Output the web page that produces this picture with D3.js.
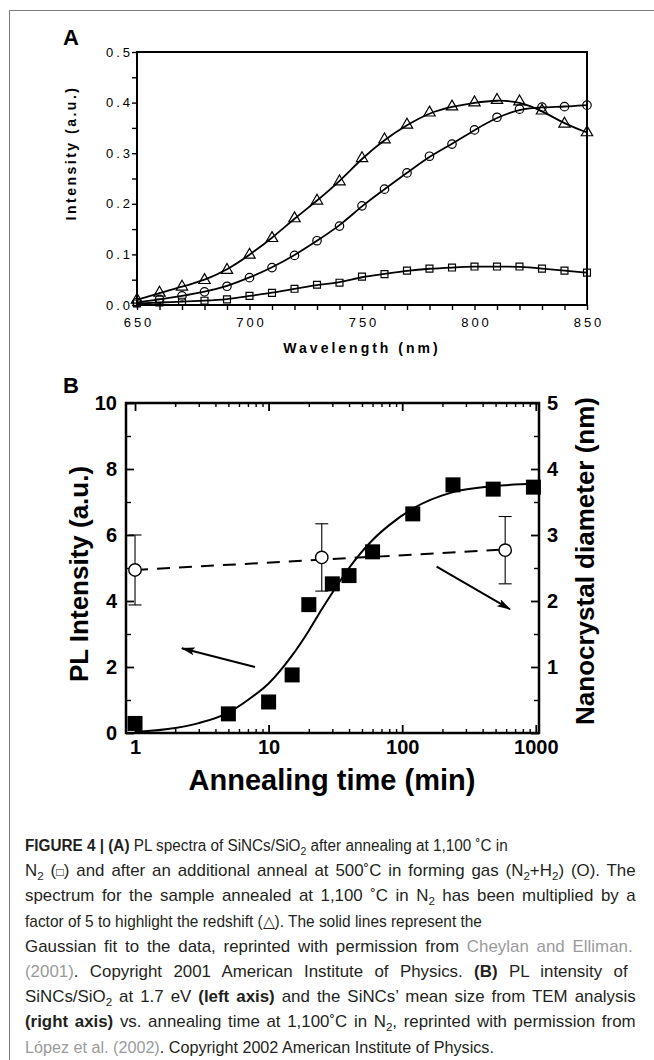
<!DOCTYPE html>
<html>
<head>
<meta charset="utf-8">
<title>Figure 4</title>
<script src="https://cdnjs.cloudflare.com/ajax/libs/d3/7.8.5/d3.min.js"></script>
<style>
  body { margin: 0; background: #fff; }
  svg { display: block; font-family: "Liberation Sans", Arial, Helvetica, sans-serif; }
  .tick line { stroke: #000; }
  .tick text { fill: #000; }
</style>
</head>
<body>
<script>
  // ---- panel A : PL spectra ----
  var wavelength = [650, 660, 670, 680, 690, 700, 710, 720, 730, 740, 750,
    760, 770, 780, 790, 800, 810, 820, 830, 840, 850];
  var redshiftX5 = [0.010, 0.024, 0.036, 0.049, 0.069, 0.099, 0.132, 0.171, 0.206, 0.244, 0.290,
    0.327, 0.356, 0.380, 0.392, 0.400, 0.405, 0.402, 0.384, 0.358, 0.341];
  var formingGas = [0.005, 0.011, 0.018, 0.026, 0.037, 0.054, 0.074, 0.098, 0.127, 0.156, 0.196,
    0.229, 0.261, 0.294, 0.318, 0.346, 0.371, 0.387, 0.391, 0.392, 0.395];
  var annealN2 = [0.003, 0.005, 0.0065, 0.0085, 0.011, 0.018, 0.024, 0.032, 0.040, 0.044, 0.056,
    0.061, 0.068, 0.072, 0.074, 0.076, 0.076, 0.076, 0.072, 0.068, 0.064];
  var xTicksA = [650, 660, 670, 680, 690, 700, 710, 720, 730, 740, 750, 760, 770, 780, 790, 800,
    810, 820, 830, 840, 850];
  var xLabelsA = [650, 700, 750, 800, 850];
  var yTicksA = [0, 0.05, 0.1, 0.15, 0.2, 0.25, 0.3, 0.35, 0.4, 0.45, 0.5];
  var yLabelsA = [0, 0.1, 0.2, 0.3, 0.4, 0.5];

  // ---- panel B : PL intensity and size vs annealing time ----
  var annealTime = [1, 5, 10, 15, 20, 30, 40, 60, 120, 240, 480, 960];
  var plIntensity = [0.29, 0.58, 0.94, 1.76, 3.89, 4.52, 4.77, 5.49, 6.64, 7.52, 7.39, 7.45];
  var fitTime = [1, 2, 3, 5, 7, 10, 15, 20, 25, 30, 40, 60, 80, 120, 240, 480, 1000];
  var fitIntensity = [0.03, 0.15, 0.3, 0.62, 1.0, 1.5, 2.35, 3.1, 3.75, 4.25, 5.0, 5.85, 6.3, 6.8, 7.3, 7.48, 7.55];
  var sizeTime = [1, 25, 590];
  var sizeDiameter = [2.47, 2.66, 2.77];
  var sizeError = [0.53, 0.51, 0.51];
  var sizeFitTime = [1, 590];
  var sizeFitDiameter = [2.47, 2.78];
  var xMajorB = [1, 10, 100, 1000];
  var xMinorB = [2, 3, 4, 5, 6, 7, 8, 9, 20, 30, 40, 50, 60, 70, 80, 90, 200, 300, 400, 500, 600, 700, 800, 900];
  var yLeftMajor = [0, 2, 4, 6, 8, 10];
  var yLeftMinor = [1, 3, 5, 7, 9];
  var yRightMajor = [0, 1, 2, 3, 4, 5];
  var yRightMinor = [0.5, 1.5, 2.5, 3.5, 4.5];
  // arrows in (time, left-axis intensity) units
  var arrowLeft = [[7.9, 2.0], [2.24, 2.57]];
  var arrowRight = [[181, 5.04], [641, 3.75]];

  // ---- caption ----
  var captionLines = [
    [["FIGURE 4 | (A)", "b"], [" PL spectra of SiNCs/SiO", "n"], ["2", "s"], [" after annealing at 1,100 \u02daC in", "n"]],
    [["N", "n"], ["2", "s"], [" (", "n"], ["\u25a1", "q"], [") and after an additional anneal at 500\u02daC in forming gas (N", "n"], ["2", "s"], ["+H", "n"], ["2", "s"], [") (O). The", "n"]],
    [["spectrum for the sample annealed at 1,100 \u02daC in N", "n"], ["2", "s"], [" has been multiplied by a", "n"]],
    [["factor of 5 to highlight the redshift (\u25b3). The solid lines represent the", "n"]],
    [["Gaussian fit to the data, reprinted with permission from ", "n"], ["Cheylan and Elliman.", "g"]],
    [["(2001)", "g"], [". Copyright 2001 American Institute of Physics. ", "n"], ["(B)", "b"], [" PL intensity of", "n"]],
    [["SiNCs/SiO", "n"], ["2", "s"], [" at 1.7 eV ", "n"], ["(left axis)", "b"], [" and the SiNCs\u2019 mean size from TEM analysis", "n"]],
    [["(right axis)", "b"], [" vs. annealing time at 1,100\u02daC in N", "n"], ["2", "s"], [", reprinted with permission from", "n"]],
    [["L\u00f3pez et al. (2002)", "g"], [". Copyright 2002 American Institute of Physics.", "n"]]
  ];
  var captionWidths = [483, 611, 611, 457, 608, 603, 611, 611, 469];
  var captionJustified = [false, true, true, false, true, true, true, true, false];

  var svg = d3.select("body").append("svg")
    .attr("width", 654)
    .attr("height", 1060);

  // outer frame
  svg.append("path")
    .attr("d", "M654,10.5 H9.5 V1060")
    .attr("fill", "none")
    .attr("stroke", "#7a7a7a")
    .attr("stroke-width", 1);

  // ================= panel A =================
  var xA = d3.scaleLinear().domain([650, 850]).range([137, 587]);
  var yA = d3.scaleLinear().domain([0, 0.5]).range([305, 52]);

  var gA = svg.append("g");

  gA.append("g")
    .attr("transform", "translate(0," + yA(0) + ")")
    .call(d3.axisBottom(xA)
      .tickValues(xTicksA)
      .tickSize(5)
      .tickSizeOuter(0)
      .tickPadding(8)
      .tickFormat(function(d) { return xLabelsA.indexOf(d) >= 0 ? d : ""; }))
    .call(function(g) { g.select(".domain").remove(); })
    .call(function(g) {
      g.selectAll("line").attr("stroke-width", 1.4);
      g.selectAll("text").attr("font-size", 13).attr("letter-spacing", 3).attr("dx", 1.5);
    });

  gA.append("g")
    .attr("transform", "translate(" + xA(650) + ",0)")
    .call(d3.axisLeft(yA)
      .tickValues(yTicksA)
      .tickSize(5)
      .tickSizeOuter(0)
      .tickPadding(-1)
      .tickFormat(function(d) {
        return yLabelsA.some(function(v) { return Math.abs(v - d) < 1e-9; }) ? d3.format(".1f")(d) : "";
      }))
    .call(function(g) { g.select(".domain").remove(); })
    .call(function(g) {
      g.selectAll("line").attr("stroke-width", 1.4);
      g.selectAll("text").attr("font-size", 13).attr("letter-spacing", 3);
    });

  gA.append("rect")
    .attr("x", xA(650))
    .attr("y", yA(0.5))
    .attr("width", xA(850) - xA(650))
    .attr("height", yA(0) - yA(0.5))
    .attr("fill", "none")
    .attr("stroke", "#000")
    .attr("stroke-width", 2);

  var lineA = d3.line()
    .x(function(d) { return xA(d[0]); })
    .y(function(d) { return yA(d[1]); })
    .curve(d3.curveBasis);

  var seriesA = [
    { values: redshiftX5, symbol: d3.symbolTriangle, size: 56 },
    { values: formingGas, symbol: d3.symbolCircle, size: 56 },
    { values: annealN2, symbol: d3.symbolSquare, size: 48 }
  ];

  seriesA.forEach(function(s) {
    var pts = wavelength.map(function(w, i) { return [w, s.values[i]]; });
    gA.append("path")
      .datum(pts)
      .attr("d", lineA)
      .attr("fill", "none")
      .attr("stroke", "#000")
      .attr("stroke-width", 1.8);
    gA.selectAll(null)
      .data(pts)
      .enter().append("path")
      .attr("transform", function(d) { return "translate(" + xA(d[0]) + "," + yA(d[1]) + ")"; })
      .attr("d", d3.symbol(s.symbol, s.size))
      .attr("fill", "none")
      .attr("stroke", "#000")
      .attr("stroke-width", 1.2);
  });

  gA.append("text")
    .attr("x", 362)
    .attr("y", 353)
    .attr("text-anchor", "middle")
    .attr("font-size", 14)
    .attr("font-weight", "bold")
    .attr("letter-spacing", 3)
    .text("Wavelength (nm)");

  gA.append("text")
    .attr("transform", "translate(76,153) rotate(-90)")
    .attr("text-anchor", "middle")
    .attr("font-size", 14)
    .attr("font-weight", "bold")
    .attr("letter-spacing", 2.5)
    .text("Intensity (a.u.)");

  svg.append("text")
    .attr("x", 63)
    .attr("y", 45)
    .attr("font-size", 22)
    .attr("font-weight", "bold")
    .text("A");

  // ================= panel B =================
  var xB = d3.scaleLog().domain([0.856, 1057]).range([126, 539]);
  var yL = d3.scaleLinear().domain([0, 10]).range([733, 403]);
  var yR = d3.scaleLinear().domain([0, 5]).range([733, 403]);

  var gB = svg.append("g");

  function styleAxis(g, width) {
    g.select(".domain").remove();
    g.selectAll("line").attr("stroke-width", width);
    g.selectAll("text").attr("font-size", 20).attr("font-weight", "bold");
  }

  // bottom
  gB.append("g")
    .attr("transform", "translate(0," + yL(0) + ")")
    .call(d3.axisBottom(xB).tickValues(xMajorB).tickSize(-8).tickSizeOuter(0).tickPadding(7)
      .tickFormat(d3.format("d")))
    .call(styleAxis, 1.8);
  gB.append("g")
    .attr("transform", "translate(0," + yL(0) + ")")
    .call(d3.axisBottom(xB).tickValues(xMinorB).tickSize(-4).tickSizeOuter(0).tickFormat(""))
    .call(styleAxis, 1.4);
  // top
  gB.append("g")
    .attr("transform", "translate(0," + yL(10) + ")")
    .call(d3.axisTop(xB).tickValues(xMajorB).tickSize(-8).tickSizeOuter(0).tickFormat(""))
    .call(styleAxis, 1.8);
  gB.append("g")
    .attr("transform", "translate(0," + yL(10) + ")")
    .call(d3.axisTop(xB).tickValues(xMinorB).tickSize(-4).tickSizeOuter(0).tickFormat(""))
    .call(styleAxis, 1.4);
  // left
  gB.append("g")
    .attr("transform", "translate(" + xB.range()[0] + ",0)")
    .call(d3.axisLeft(yL).tickValues(yLeftMajor).tickSize(-8).tickSizeOuter(0).tickPadding(9))
    .call(styleAxis, 1.8);
  gB.append("g")
    .attr("transform", "translate(" + xB.range()[0] + ",0)")
    .call(d3.axisLeft(yL).tickValues(yLeftMinor).tickSize(-5).tickSizeOuter(0).tickFormat(""))
    .call(styleAxis, 1.4);
  // right
  gB.append("g")
    .attr("transform", "translate(" + xB.range()[1] + ",0)")
    .call(d3.axisRight(yR).tickValues(yRightMajor).tickSize(-8).tickSizeOuter(0).tickPadding(8)
      .tickFormat(function(d) { return d === 0 ? "" : d; }))
    .call(styleAxis, 1.8);
  gB.append("g")
    .attr("transform", "translate(" + xB.range()[1] + ",0)")
    .call(d3.axisRight(yR).tickValues(yRightMinor).tickSize(-5).tickSizeOuter(0).tickFormat(""))
    .call(styleAxis, 1.4);

  gB.append("rect")
    .attr("x", xB.range()[0])
    .attr("y", yL(10))
    .attr("width", xB.range()[1] - xB.range()[0])
    .attr("height", yL(0) - yL(10))
    .attr("fill", "none")
    .attr("stroke", "#000")
    .attr("stroke-width", 2.5);

  // sigmoid fit
  gB.append("path")
    .datum(fitTime.map(function(t, i) { return [t, fitIntensity[i]]; }))
    .attr("d", d3.line()
      .x(function(d) { return xB(d[0]); })
      .y(function(d) { return yL(d[1]); })
      .curve(d3.curveMonotoneX))
    .attr("fill", "none")
    .attr("stroke", "#000")
    .attr("stroke-width", 2);

  // dashed size trend
  gB.append("path")
    .datum(sizeFitTime.map(function(t, i) { return [t, sizeFitDiameter[i]]; }))
    .attr("d", d3.line()
      .x(function(d) { return xB(d[0]); })
      .y(function(d) { return yR(d[1]); }))
    .attr("fill", "none")
    .attr("stroke", "#000")
    .attr("stroke-width", 2)
    .attr("stroke-dasharray", "13,9");

  // PL intensity squares
  gB.selectAll(null)
    .data(annealTime)
    .enter().append("path")
    .attr("transform", function(t, i) { return "translate(" + xB(t) + "," + yL(plIntensity[i]) + ")"; })
    .attr("d", d3.symbol(d3.symbolSquare, 225))
    .attr("fill", "#000");

  // size error bars and circles
  var sizeG = gB.selectAll(null)
    .data(sizeTime)
    .enter().append("g");
  sizeG.append("line")
    .attr("x1", function(t) { return xB(t); })
    .attr("x2", function(t) { return xB(t); })
    .attr("y1", function(t, i) { return yR(sizeDiameter[i] + sizeError[i]); })
    .attr("y2", function(t, i) { return yR(sizeDiameter[i] - sizeError[i]); })
    .attr("stroke", "#000")
    .attr("stroke-width", 1.1);
  [1, -1].forEach(function(sign) {
    sizeG.append("line")
      .attr("x1", function(t) { return xB(t) - 6.5; })
      .attr("x2", function(t) { return xB(t) + 6.5; })
      .attr("y1", function(t, i) { return yR(sizeDiameter[i] + sign * sizeError[i]); })
      .attr("y2", function(t, i) { return yR(sizeDiameter[i] + sign * sizeError[i]); })
      .attr("stroke", "#000")
      .attr("stroke-width", 1.1);
  });
  sizeG.append("circle")
    .attr("cx", function(t) { return xB(t); })
    .attr("cy", function(t, i) { return yR(sizeDiameter[i]); })
    .attr("r", 6.2)
    .attr("fill", "#fff")
    .attr("stroke", "#000")
    .attr("stroke-width", 1.4);

  // arrows
  svg.append("defs").append("marker")
    .attr("id", "head")
    .attr("viewBox", "0 0 14 8")
    .attr("refX", 13)
    .attr("refY", 4)
    .attr("markerWidth", 14)
    .attr("markerHeight", 8)
    .attr("markerUnits", "userSpaceOnUse")
    .attr("orient", "auto")
    .append("path")
    .attr("d", "M0,0 L14,4 L0,8 L3,4 Z")
    .attr("fill", "#000");

  [arrowLeft, arrowRight].forEach(function(a) {
    gB.append("line")
      .attr("x1", xB(a[0][0]))
      .attr("y1", yL(a[0][1]))
      .attr("x2", xB(a[1][0]))
      .attr("y2", yL(a[1][1]))
      .attr("stroke", "#000")
      .attr("stroke-width", 2)
      .attr("marker-end", "url(#head)");
  });

  gB.append("text")
    .attr("x", 332)
    .attr("y", 790)
    .attr("text-anchor", "middle")
    .attr("font-size", 29)
    .attr("font-weight", "bold")
    .text("Annealing time (min)");

  gB.append("text")
    .attr("transform", "translate(88,574) rotate(-90)")
    .attr("text-anchor", "middle")
    .attr("font-size", 26)
    .attr("font-weight", "bold")
    .text("PL Intensity (a.u.)");

  gB.append("text")
    .attr("transform", "translate(594,561) rotate(-90)")
    .attr("text-anchor", "middle")
    .attr("font-size", 26)
    .attr("font-weight", "bold")
    .text("Nanocrystal diameter (nm)");

  svg.append("text")
    .attr("x", 63)
    .attr("y", 393)
    .attr("font-size", 22)
    .attr("font-weight", "bold")
    .text("B");

  // ================= caption =================
  // condensed look: ragged lines squeezed to their width, justified lines a bit
  // wider glyphs plus some extra word spacing
  var cap = svg.append("g")
    .attr("font-size", 16)
    .attr("fill", "#231f20");

  var capTexts = captionLines.map(function(segs, li) {
    var row = cap.append("g");
    var t = row.append("text");
    var shifted = false;
    segs.forEach(function(s) {
      var ts = t.append("tspan").text(s[0]);
      if (s[1] === "s") {
        ts.attr("dy", 4).attr("font-size", 11);
        shifted = true;
        return;
      }
      if (shifted) { ts.attr("dy", -4); shifted = false; }
      if (s[1] === "b") ts.attr("font-weight", "bold");
      if (s[1] === "g") ts.attr("fill", "#9a9a9a");
      if (s[1] === "q") ts.attr("font-size", 12);
    });
    return { row: row, text: t, width: t.node().getComputedTextLength() };
  });

  var raggedSqueeze = d3.mean(capTexts.filter(function(c, i) { return !captionJustified[i]; }),
    function(c) { return captionWidths[capTexts.indexOf(c)] / c.width; });

  capTexts.forEach(function(c, li) {
    var target = captionWidths[li];
    var sx = captionJustified[li] ? Math.min(target / c.width, raggedSqueeze * 1.08) : target / c.width;
    c.row.attr("transform", "translate(25," + (851 + li * 25.2) + ") scale(" + sx + ",1)");
    if (captionJustified[li]) {
      var spaces = (c.text.text().match(/ /g) || []).length;
      var extra = target / sx - c.width;
      if (spaces > 0 && extra > 0) c.text.attr("word-spacing", extra / spaces);
    }
  });
</script>
</body>
</html>
